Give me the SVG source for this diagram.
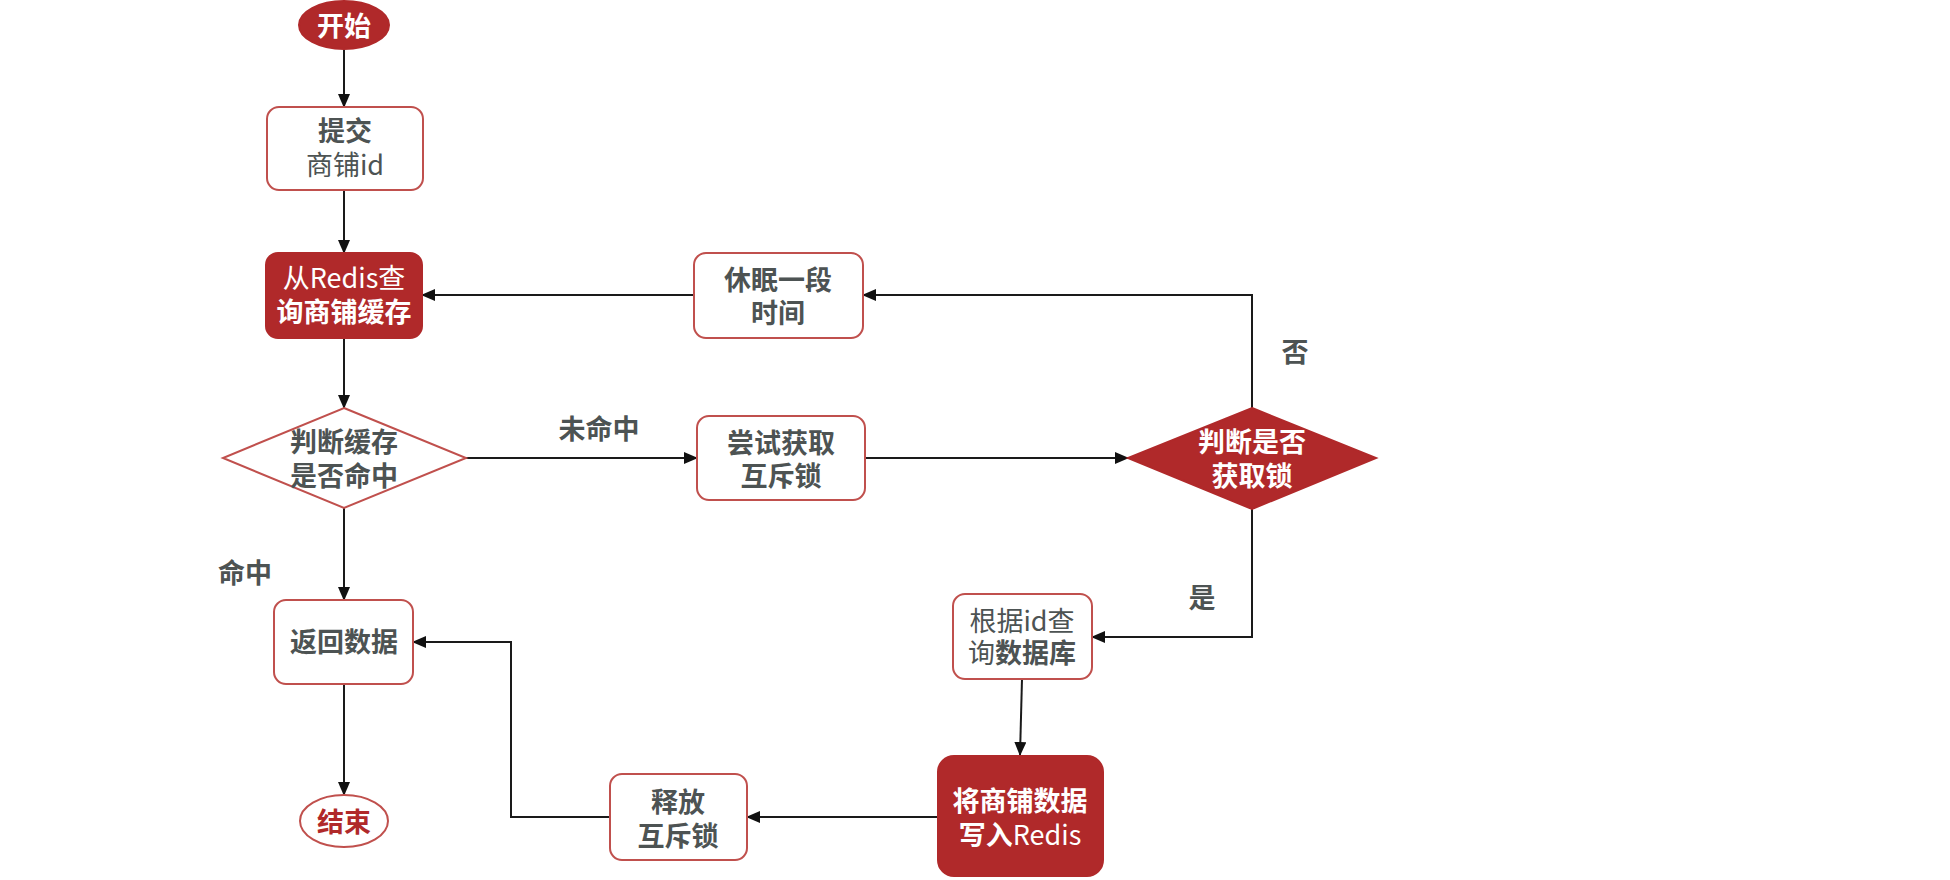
<svg xmlns="http://www.w3.org/2000/svg" width="1950" height="880" viewBox="0 0 1950 880">
<defs>
<marker id="arr" markerWidth="14" markerHeight="12" refX="13" refY="6" orient="auto" markerUnits="userSpaceOnUse">
<path d="M0,0 L14,6 L0,12 Z" fill="#111"/>
</marker>
<style>
text{font-family:"Noto Sans CJK SC","Noto Sans",sans-serif;font-size:27px;text-anchor:middle;dominant-baseline:central;}
.g{fill:#4d5353;}
.w{fill:#ffffff;}
.r{fill:#b0292a;}
.b{font-weight:bold;}
.n{font-weight:normal;}
.box{fill:#ffffff;stroke:#c0504d;stroke-width:2;}
.red{fill:#b0292a;stroke:#b0292a;stroke-width:2;}
.c{fill:none;stroke:#1a1a1a;stroke-width:2;marker-end:url(#arr);}
</style>
</defs>
<rect width="1950" height="880" fill="#ffffff"/>
<g id="connectors">
<line class="c" x1="344" y1="50" x2="344" y2="107"/>
<line class="c" x1="344" y1="190" x2="344" y2="253"/>
<line class="c" x1="344" y1="338" x2="344" y2="408"/>
<line class="c" x1="466" y1="458" x2="697" y2="458"/>
<line class="c" x1="865" y1="458" x2="1128" y2="458"/>
<polyline class="c" points="1252,408 1252,295 863,295"/>
<line class="c" x1="694" y1="295" x2="422" y2="295"/>
<polyline class="c" points="1252,509 1252,637 1092,637"/>
<line class="c" x1="1022" y1="679" x2="1020" y2="755"/>
<line class="c" x1="938" y1="817" x2="747" y2="817"/>
<polyline class="c" points="610,817 511,817 511,642 413,642"/>
<line class="c" x1="344" y1="508" x2="344" y2="600"/>
<line class="c" x1="344" y1="684" x2="344" y2="795"/>
<text class="g b" x="599" y="427">未命中</text>
<text class="g b" x="245" y="571">命中</text>
<text class="g b" x="1295" y="350">否</text>
<text class="g b" x="1202" y="596">是</text>
</g>
<g id="start">
<ellipse cx="344" cy="25" rx="45" ry="24" class="red"/>
<text class="w b" x="344" y="24">开始</text>
</g>
<g id="submit">
<rect class="box" x="267" y="107" width="156" height="83" rx="12"/>
<text class="g b" x="345" y="129">提交</text>
<text class="g n" x="345" y="163">商铺id</text>
</g>
<g id="queryRedis">
<rect class="red" x="266" y="253" width="156" height="85" rx="12"/>
<text class="w n" x="344" y="276">从Redis查</text>
<text class="w b" x="344" y="310">询商铺缓存</text>
</g>
<g id="checkCache">
<polygon class="box" points="344,408 466,458 344,508 223,458"/>
<text class="g b" x="344" y="440">判断缓存</text>
<text class="g b" x="344" y="474">是否命中</text>
</g>
<g id="tryLock">
<rect class="box" x="697" y="416" width="168" height="84" rx="12"/>
<text class="g b" x="781" y="441">尝试获取</text>
<text class="g b" x="781" y="474">互斥锁</text>
</g>
<g id="sleep">
<rect class="box" x="694" y="253" width="169" height="85" rx="12"/>
<text class="g b" x="778" y="278">休眠一段</text>
<text class="g b" x="778" y="311">时间</text>
</g>
<g id="checkLock">
<polygon class="red" points="1252,408 1376,458 1252,509 1128,458"/>
<text class="w b" x="1252" y="440">判断是否</text>
<text class="w b" x="1252" y="474">获取锁</text>
</g>
<g id="queryDb">
<rect class="box" x="953" y="594" width="139" height="85" rx="12"/>
<text class="g n" x="1022" y="619">根据id查</text>
<text class="g" x="1022" y="651"><tspan class="n">询</tspan><tspan class="b">数据库</tspan></text>
</g>
<g id="writeRedis">
<rect class="red" x="938" y="756" width="165" height="120" rx="16"/>
<text class="w b" x="1020" y="799">将商铺数据</text>
<text class="w" x="1020" y="833"><tspan class="b">写入</tspan><tspan class="n">Redis</tspan></text>
</g>
<g id="unlock">
<rect class="box" x="610" y="774" width="137" height="86" rx="12"/>
<text class="g b" x="678" y="800">释放</text>
<text class="g b" x="678" y="834">互斥锁</text>
</g>
<g id="returnData">
<rect class="box" x="274" y="600" width="139" height="84" rx="12"/>
<text class="g b" x="344" y="640">返回数据</text>
</g>
<g id="end">
<ellipse cx="344" cy="821" rx="44" ry="26" fill="#ffffff" stroke="#c0504d" stroke-width="2"/>
<text class="r b" x="344" y="820">结束</text>
</g>
</svg>
